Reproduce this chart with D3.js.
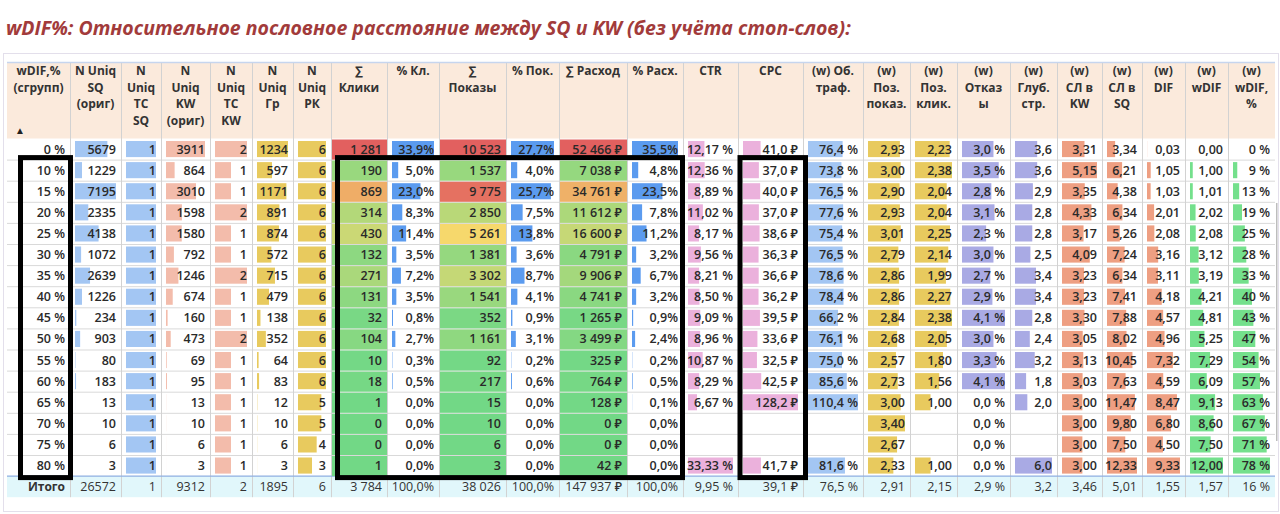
<!DOCTYPE html>
<html>
<head>
  <meta charset="utf-8">
  <title>wDIF% - относительное пословное расстояние</title>
  <style>
    body { margin: 0; padding: 0; background: #fff; }
    svg text { font-family: "Open Sans", "Noto Sans", sans-serif; }
    .title { font-size: 19.5px; font-weight: 700; font-style: italic; fill: #a23b3b; }
    .hdr { font-size: 12px; font-weight: 700; fill: #333; }
    .cell { font-size: 12.5px; font-weight: 600; fill: #2a2a2a; }
    .total { font-size: 12.5px; font-weight: 500; fill: #333; }
  </style>
</head>
<body>
<div id="chart"></div>
<script src="https://cdn.jsdelivr.net/npm/d3@7"></script>
<script>

// ---------- data ----------
var groups     = [0, 10, 15, 20, 25, 30, 35, 40, 45, 50, 55, 60, 65, 70, 75, 80];
var nUniqSQ    = [5679, 1229, 7195, 2335, 4138, 1072, 2639, 1226, 234, 903, 80, 183, 13, 10, 6, 3];
var nTcSQ      = [1, 1, 1, 1, 1, 1, 1, 1, 1, 1, 1, 1, 1, 1, 1, 1];
var nUniqKW    = [3911, 864, 3010, 1598, 1580, 792, 1246, 674, 160, 473, 69, 95, 13, 10, 6, 3];
var nTcKW      = [2, 1, 1, 2, 1, 1, 2, 1, 1, 2, 1, 1, 1, 1, 1, 1];
var nGroups    = [1234, 597, 1171, 891, 874, 572, 715, 479, 138, 352, 64, 83, 12, 10, 6, 3];
var nCampaigns = [6, 6, 6, 6, 6, 6, 6, 6, 6, 6, 6, 6, 5, 5, 4, 3];
var clicks     = [1281, 190, 869, 314, 430, 132, 271, 131, 32, 104, 10, 18, 1, 0, 0, 1];
var clicksPct  = [33.9, 5.0, 23.0, 8.3, 11.4, 3.5, 7.2, 3.5, 0.8, 2.7, 0.3, 0.5, 0.0, 0.0, 0.0, 0.0];
var shows      = [10523, 1537, 9775, 2850, 5261, 1381, 3302, 1541, 352, 1161, 92, 217, 15, 10, 6, 3];
var showsPct   = [27.7, 4.0, 25.7, 7.5, 13.8, 3.6, 8.7, 4.1, 0.9, 3.1, 0.2, 0.6, 0.0, 0.0, 0.0, 0.0];
var cost       = [52466, 7038, 34761, 11612, 16600, 4791, 9906, 4741, 1265, 3499, 325, 764, 128, 0, 0, 42];
var costPct    = [35.5, 4.8, 23.5, 7.8, 11.2, 3.2, 6.7, 3.2, 0.9, 2.4, 0.2, 0.5, 0.1, 0.0, 0.0, 0.0];
var ctr        = [12.17, 12.36, 8.89, 11.02, 8.17, 9.56, 8.21, 8.50, 9.09, 8.96, 10.87, 8.29, 6.67, null, null, 33.33];
var cpc        = [41.0, 37.0, 40.0, 37.0, 38.6, 36.3, 36.6, 36.2, 39.5, 33.6, 32.5, 42.5, 128.2, null, null, 41.7];
var traffic    = [76.4, 73.8, 76.5, 77.6, 75.4, 76.5, 78.6, 78.4, 66.2, 76.1, 75.0, 85.6, 110.4, null, null, 81.6];
var posShow    = [2.93, 3.00, 2.90, 2.93, 3.01, 2.79, 2.86, 2.86, 2.84, 2.68, 2.57, 2.73, 3.00, 3.40, 2.67, 2.33];
var posClick   = [2.23, 2.38, 2.04, 2.04, 2.25, 2.14, 1.99, 2.27, 2.38, 2.05, 1.80, 1.56, 1.00, null, null, 1.00];
var bounce     = [3.0, 3.5, 2.8, 3.1, 2.3, 3.0, 2.7, 2.9, 4.1, 3.0, 3.3, 4.1, 0.0, 0.0, 0.0, 0.0];
var depth      = [3.6, 3.6, 2.9, 2.8, 2.8, 2.5, 3.4, 3.4, 2.8, 2.4, 3.2, 1.8, 2.0, null, null, 6.0];
var wordsKW    = [3.31, 5.15, 3.35, 4.33, 3.17, 4.09, 3.23, 3.23, 3.30, 3.05, 3.13, 3.03, 3.00, 3.00, 3.00, 3.00];
var wordsSQ    = [3.34, 6.21, 4.38, 6.34, 5.26, 7.24, 6.34, 7.41, 7.88, 8.02, 10.45, 7.63, 11.47, 9.80, 7.50, 12.33];
var dif        = [0.03, 1.05, 1.03, 2.01, 2.08, 3.16, 3.11, 4.18, 4.57, 4.96, 7.32, 4.59, 8.47, 6.80, 4.50, 9.33];
var wdif       = [0.00, 1.00, 1.01, 2.02, 2.08, 3.12, 3.19, 4.21, 4.81, 5.25, 7.29, 6.09, 9.13, 8.60, 7.50, 12.00];
var wdifPct    = [0, 9, 13, 19, 25, 28, 33, 40, 43, 47, 54, 57, 63, 67, 71, 78];

// row "Итого"
var totals = [null, 26572, 1, 9312, 2, 1895, 6, 3784, 100.0, 38026, 100.0, 147937, 100.0,
              9.95, 39.1, 76.5, 2.91, 2.15, 2.9, 3.2, 3.46, 5.01, 1.55, 1.57, 16];

// ---------- formats ----------
var ru = d3.formatLocale({ decimal: ",", thousands: "\u00a0", grouping: [3], currency: ["", ""] });
var fPlain = d3.format("d"),
    fInt = ru.format(",d"),
    f1 = ru.format(".1f"),
    f2 = ru.format(".2f"),
    f0 = ru.format(".0f");

function suf(f, s) { return function (v) { return f(v) + s; }; }

// ---------- columns ----------
var BLUE_L = "#a3c6f3", BLUE = "#5b9bef", SALMON_L = "#f3bcab", SALMON = "#ee9f82",
    YELLOW = "#e8ca5e", PINK = "#ebb1dc", LAV = "#a9aae4", GREEN = "#74e08c";

var columns = [
  { head: ["wDIF,%", "(сгрупп)"], values: groups, fmt: suf(fPlain, " %") },
  { head: ["N Uniq", "SQ", "(ориг)"], values: nUniqSQ, fmt: fPlain, bar: BLUE_L },
  { head: ["N", "Uniq", "TC", "SQ"], values: nTcSQ, fmt: fPlain, bar: BLUE_L },
  { head: ["N", "Uniq", "KW", "(ориг)"], values: nUniqKW, fmt: fPlain, bar: SALMON_L },
  { head: ["N", "Uniq", "TC", "KW"], values: nTcKW, fmt: fPlain, bar: SALMON_L },
  { head: ["N", "Uniq", "Гр"], values: nGroups, fmt: fPlain, bar: YELLOW },
  { head: ["N", "Uniq", "РК"], values: nCampaigns, fmt: fPlain, bar: YELLOW },
  { head: ["∑", "Клики"], values: clicks, fmt: fInt, heat: true },
  { head: ["% Кл."], values: clicksPct, fmt: suf(f1, "%"), bar: BLUE },
  { head: ["∑", "Показы"], values: shows, fmt: fInt, heat: true },
  { head: ["% Пок."], values: showsPct, fmt: suf(f1, "%"), bar: BLUE },
  { head: ["∑ Расход"], values: cost, fmt: suf(fInt, " ₽"), heat: true },
  { head: ["% Расх."], values: costPct, fmt: suf(f1, "%"), bar: BLUE },
  { head: ["CTR"], values: ctr, fmt: suf(f2, " %"), bar: PINK },
  { head: ["CPC"], values: cpc, fmt: suf(f1, " ₽"), bar: PINK },
  { head: ["(w) Об.", "траф."], values: traffic, fmt: suf(f1, " %"), bar: BLUE_L },
  { head: ["(w)", "Поз.", "показ."], values: posShow, fmt: f2, bar: YELLOW },
  { head: ["(w)", "Поз.", "клик."], values: posClick, fmt: f2, bar: YELLOW },
  { head: ["(w)", "Отказ", "ы"], values: bounce, fmt: suf(f1, " %"), bar: LAV },
  { head: ["(w)", "Глуб.", "стр."], values: depth, fmt: f1, bar: LAV },
  { head: ["(w)", "СЛ в", "KW"], values: wordsKW, fmt: f2, bar: SALMON },
  { head: ["(w)", "СЛ в", "SQ"], values: wordsSQ, fmt: f2, bar: SALMON },
  { head: ["(w)", "DIF"], values: dif, fmt: f2, bar: SALMON },
  { head: ["(w)", "wDIF"], values: wdif, fmt: f2, bar: GREEN },
  { head: ["(w)", "wDIF,", "%"], values: wdifPct, fmt: suf(f0, " %"), bar: GREEN }
];

// ---------- layout ----------
var width = 1280, height = 514;
var colEdges = [7, 70, 121, 161, 210, 252, 293, 331, 387, 439, 506, 559, 627, 683,
                738, 803, 863, 910, 957, 1010, 1057, 1102, 1142, 1185, 1228, 1275];
var headTop = 63, bodyTop = 138.5, rowH = 21.1;
var nRows = groups.length;

var x0 = function (i) { return colEdges[i]; },
    x1 = function (i) { return colEdges[i + 1]; };

var y = d3.scaleBand()
    .domain(d3.range(nRows + 1))
    .range([bodyTop, bodyTop + rowH * (nRows + 1)])
    .padding(0);

var svg = d3.select("#chart").append("svg")
    .attr("width", width)
    .attr("height", height);

// title
svg.append("text")
    .attr("class", "title")
    .attr("x", 6).attr("y", 35)
    .text("wDIF%: Относительное пословное расстояние между SQ и KW (без учёта стоп-слов):");

// outer frame
svg.append("rect")
    .attr("x", 3.5).attr("y", 53.5)
    .attr("width", 1275).attr("height", 458)
    .attr("fill", "#fff").attr("stroke", "#e3dfeb");

// header background
svg.append("rect")
    .attr("x", colEdges[0]).attr("y", headTop)
    .attr("width", colEdges[colEdges.length - 1] - colEdges[0])
    .attr("height", bodyTop - headTop)
    .attr("fill", "#fbeadc");
svg.append("line")
    .attr("x1", colEdges[0]).attr("x2", colEdges[colEdges.length - 1])
    .attr("y1", headTop - 0.5).attr("y2", headTop - 0.5)
    .attr("stroke", "#c6d5ee").attr("stroke-width", 1.5);

// footer background
var totalRow = nRows;
svg.append("rect")
    .attr("x", colEdges[0]).attr("y", y(totalRow))
    .attr("width", colEdges[colEdges.length - 1] - colEdges[0])
    .attr("height", y.bandwidth())
    .attr("fill", "#e1f7fb");

// horizontal grid lines
svg.append("g").selectAll("line")
    .data(d3.range(1, nRows))
    .enter().append("line")
    .attr("x1", colEdges[0]).attr("x2", colEdges[colEdges.length - 1])
    .attr("y1", function (d) { return y(d) + 0.5; })
    .attr("y2", function (d) { return y(d) + 0.5; })
    .attr("stroke", "#d9d9d9");

// vertical separators
svg.append("g").selectAll("line")
    .data(colEdges.slice(1, -1))
    .enter().append("line")
    .attr("x1", function (d) { return d + 0.5; })
    .attr("x2", function (d) { return d + 0.5; })
    .attr("y1", headTop)
    .attr("y2", y(totalRow) + y.bandwidth())
    .attr("stroke", "#d2d2d2");

// line over total row
svg.append("line")
    .attr("x1", colEdges[0]).attr("x2", colEdges[colEdges.length - 1])
    .attr("y1", y(totalRow)).attr("y2", y(totalRow))
    .attr("stroke", "#8fafe2").attr("stroke-width", 1.2);

// header text
columns.forEach(function (col, ci) {
  var cx = (x0(ci) + x1(ci)) / 2;
  var t = svg.append("text")
      .attr("class", "hdr")
      .attr("text-anchor", "middle");
  col.head.forEach(function (line, li) {
    t.append("tspan")
      .attr("x", cx)
      .attr("y", 75 + li * 16.5)
      .text(line);
  });
});
// sort arrow
svg.append("text")
    .attr("x", 15).attr("y", 134)
    .attr("font-size", 10).attr("fill", "#222")
    .text("▲");

// cells
var heatColor = function (values) {
  var ext = d3.extent(values);
  return d3.scaleLinear()
      .domain([ext[0], (ext[0] + ext[1]) / 2, ext[1]])
      .range(["#72d886", "#f6d86c", "#e2605f"]);
};

columns.forEach(function (col, ci) {
  var g = svg.append("g");
  var cw = x1(ci) - x0(ci);

  if (col.heat) {
    var color = heatColor(col.values);
    g.selectAll("rect")
      .data(col.values)
      .enter().append("rect")
      .attr("x", x0(ci) + 1)
      .attr("y", function (d, i) { return y(i) + 1; })
      .attr("width", cw - 1)
      .attr("height", y.bandwidth() - 1)
      .attr("fill", function (d) { return color(d); });
  }

  if (col.bar) {
    var w = d3.scaleLinear()
        .domain([0, d3.max(col.values)])
        .range([0, cw - 10]);
    g.selectAll("rect.bar")
      .data(col.values)
      .enter().append("rect")
      .attr("class", "bar")
      .attr("x", x0(ci) + 5)
      .attr("y", function (d, i) { return y(i) + 2.5; })
      .attr("width", function (d) { return d == null ? 0 : w(d); })
      .attr("height", y.bandwidth() - 5)
      .attr("fill", col.bar);
  }

  g.selectAll("text")
    .data(col.values)
    .enter().append("text")
    .attr("class", "cell")
    .attr("text-anchor", "end")
    .attr("x", x1(ci) - 5)
    .attr("y", function (d, i) { return y(i) + y.bandwidth() / 2 + 4.5; })
    .text(function (d) { return d == null ? "" : col.fmt(d); });

  // total row
  svg.append("text")
    .attr("class", ci === 0 ? "hdr" : "total")
    .attr("text-anchor", "end")
    .attr("x", x1(ci) - 5)
    .attr("y", y(totalRow) + y.bandwidth() / 2 + 4.5)
    .text(ci === 0 ? "Итого" : col.fmt(totals[ci]));
});

// scrollbar thumb at the right edge
svg.append("rect")
    .attr("x", 1276).attr("y", 203)
    .attr("width", 1.5).attr("height", 238)
    .attr("fill", "#bdbdbd");

// hand drawn black frames
var frames = [
  { c0: 0, c1: 0, dx0: 13.5, dx1: 0.5 },
  { c0: 7, c1: 12, dx0: 6.5, dx1: -0.5 },
  { c0: 14, c1: 14, dx0: 2, dx1: 2.5 }
];
svg.append("g").selectAll("rect")
    .data(frames)
    .enter().append("rect")
    .attr("x", function (d) { return x0(d.c0) + d.dx0; })
    .attr("y", y(1) - 2)
    .attr("width", function (d) { return x1(d.c1) + d.dx1 - x0(d.c0) - d.dx0; })
    .attr("height", y(nRows) - y(1) + 3.5)
    .attr("fill", "none")
    .attr("stroke", "#000")
    .attr("stroke-width", 5);

</script>
</body>
</html>
